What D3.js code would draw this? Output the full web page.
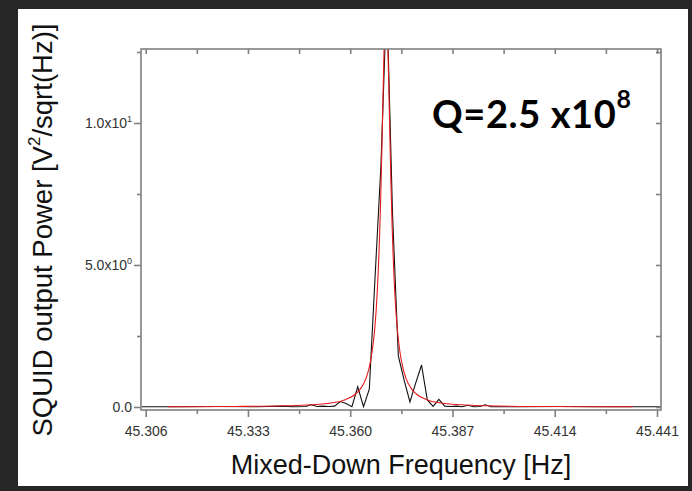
<!DOCTYPE html>
<html><head><meta charset="utf-8">
<script src="https://cdn.jsdelivr.net/npm/d3@7"></script>
<style>html,body{margin:0;padding:0;background:#262626;}svg{display:block;}</style>
</head><body>
<svg id="c" width="692" height="491"></svg>
<script>
// ---- data ----
const measuredFreq = [45.3050,45.3150,45.3250,45.3350,45.3420,45.3450,45.34820,45.34973,45.35126,45.35279,45.35432,45.35586,45.35739,45.35892,45.36045,45.36198,45.36351,45.36504,45.36657,45.36811,45.36964,45.37117,45.37270,45.37423,45.37577,45.37730,45.37883,45.38036,45.38189,45.38342,45.38496,45.38649,45.38802,45.38955,45.39108,45.39261,45.39415,45.39568,45.39721,45.4050,45.4150,45.4250,45.4350,45.4420];
const measuredPower = [0.01,0.01,0.02,0.01,0.03,0.01,0.02,0.08,0.02,0.03,0.02,0.03,0.19,0.12,0.01,0.71,0.01,0.63,4.6,8.5,14.5,6.8,1.8,0.95,0.18,0.85,1.48,0.25,0.02,0.27,0.03,0.02,0.03,0.01,0.06,0.01,0.02,0.08,0.01,0.01,0.02,0.01,0.01,0.01];
const fitFreq = [45.31189,45.32984,45.34304,45.34965,45.35493,45.35889,45.36153,45.36285,45.36417,45.36496,45.36575,45.36628,45.36681,45.36734,45.36760,45.36787,45.36813,45.36839,45.36866,45.36892,45.36919,45.36945,45.36971,45.36998,45.37024,45.37051,45.37077,45.37103,45.37130,45.37156,45.37209,45.37262,45.37315,45.37394,45.37473,45.37605,45.37737,45.38001,45.38397,45.38926,45.39586,45.40906,45.43467];
const fitPower = [0.009,0.019,0.043,0.077,0.142,0.267,0.467,0.663,1.009,1.360,1.918,2.49,3.33,4.59,5.45,6.51,7.79,9.29,10.93,12.50,13.68,14.12,13.68,12.50,10.93,9.29,7.79,6.51,5.45,4.59,3.33,2.49,1.918,1.360,1.009,0.663,0.467,0.267,0.142,0.077,0.043,0.019,0.007];
const xMajorTicks = [45.306,45.333,45.360,45.387,45.414,45.441];
const xMinorTicks = [45.3195,45.3465,45.3735,45.4005,45.4275];
const yMajorTicks = [0,5,10];
const yMajorLabels = [["0.0",""],["5.0x10","0"],["1.0x10","1"]];
const yMinorTicks = [2.5,7.5,12.5];

// ---- layout ----
const svg = d3.select("#c");
svg.append("rect").attr("x",18).attr("y",9).attr("width",670).attr("height",477).attr("fill","#fff");
const L=141, R=661, T=49, B=410;
const x = d3.scaleLinear().domain([45.306,45.441]).range([145.7,657]);
const y = d3.scaleLinear().domain([0,10]).range([407,123]);
const axisCol = "#808080";
const sans = "Liberation Sans, Arial, sans-serif";

svg.append("clipPath").attr("id","clip").append("rect").attr("x",L).attr("y",T).attr("width",R-L).attr("height",B-T);

const g = svg.append("g").attr("clip-path","url(#clip)");
const lineM = d3.line().x((d,i)=>x(measuredFreq[i])).y(d=>y(d));
const lineF = d3.line().x((d,i)=>x(fitFreq[i])).y(d=>y(d)).curve(d3.curveMonotoneX);
g.append("path").attr("d",lineM(measuredPower)).attr("fill","none").attr("stroke","#111").attr("stroke-width",1.1);
g.append("path").attr("d",lineF(fitPower)).attr("fill","none").attr("stroke","#e8191c").attr("stroke-width",1.1);

// frame
svg.append("rect").attr("x",L).attr("y",T).attr("width",R-L).attr("height",B-T).attr("fill","none").attr("stroke",axisCol).attr("stroke-width",1.6);

// bottom axis (outward) & top (inward)
const bx = svg.append("g").attr("transform",`translate(0,${B})`).call(d3.axisBottom(x).tickValues(xMajorTicks).tickSize(7).tickFormat(d3.format(".3f")));
bx.select(".domain").remove();
bx.selectAll("line").attr("stroke",axisCol).attr("stroke-width",1.6);
bx.selectAll("text").attr("font-family",sans).attr("font-size",14).attr("fill","#333").attr("dy","1.15em");
const bxm = svg.append("g").attr("transform",`translate(0,${B})`).call(d3.axisBottom(x).tickValues(xMinorTicks).tickSize(4).tickFormat(""));
bxm.select(".domain").remove(); bxm.selectAll("line").attr("stroke",axisCol).attr("stroke-width",1.6);
const tx = svg.append("g").attr("transform",`translate(0,${T})`).call(d3.axisBottom(x).tickValues(xMajorTicks.concat(xMinorTicks)).tickSize(5).tickFormat(""));
tx.select(".domain").remove(); tx.selectAll("line").attr("stroke",axisCol).attr("stroke-width",1.6);

// left axis (outward) & right (inward)
const ly = svg.append("g").attr("transform",`translate(${L},0)`).call(d3.axisLeft(y).tickValues(yMajorTicks).tickSize(7).tickFormat(""));
ly.select(".domain").remove(); ly.selectAll("line").attr("stroke",axisCol).attr("stroke-width",1.6);
const lym = svg.append("g").attr("transform",`translate(${L},0)`).call(d3.axisLeft(y).tickValues(yMinorTicks).tickSize(4).tickFormat(""));
lym.select(".domain").remove(); lym.selectAll("line").attr("stroke",axisCol).attr("stroke-width",1.6);
const ry = svg.append("g").attr("transform",`translate(${R},0)`).call(d3.axisLeft(y).tickValues(yMajorTicks.concat(yMinorTicks)).tickSize(5).tickFormat(""));
ry.select(".domain").remove(); ry.selectAll("line").attr("stroke",axisCol).attr("stroke-width",1.6);

// y tick labels with superscripts
yMajorTicks.forEach((v,i)=>{
  const t = svg.append("text").attr("x",L-9).attr("y",y(v)).attr("dy","0.35em").attr("text-anchor","end")
    .attr("font-family",sans).attr("font-size",14).attr("fill","#333");
  t.append("tspan").text(yMajorLabels[i][0]);
  if (yMajorLabels[i][1]) t.append("tspan").attr("font-size",9).attr("dy","-0.7em").text(yMajorLabels[i][1]);
});

// axis titles
svg.append("text").attr("x",401).attr("y",474).attr("text-anchor","middle")
  .attr("font-family",sans).attr("font-size",27).attr("fill","#111")
  .text("Mixed-Down Frequency [Hz]");
const yt = svg.append("text").attr("transform","translate(52,230) rotate(-90)").attr("text-anchor","middle")
  .attr("font-family",sans).attr("font-size",27.5).attr("fill","#111");
yt.append("tspan").text("SQUID output Power [V");
yt.append("tspan").attr("font-size",17).attr("dy","-0.7em").text("2");
yt.append("tspan").attr("dy","0.45em").text("/sqrt(Hz)]");

// annotation
const q = svg.append("text").attr("x",432).attr("y",128)
  .attr("font-family","Lato, sans-serif").attr("font-weight","bold").attr("font-size",38).attr("fill","#000").attr("letter-spacing",0.6);
q.append("tspan").text("Q=2.5 x10");
q.append("tspan").attr("font-size",25).attr("dy","-0.8em").text("8");
</script>
</body></html>
